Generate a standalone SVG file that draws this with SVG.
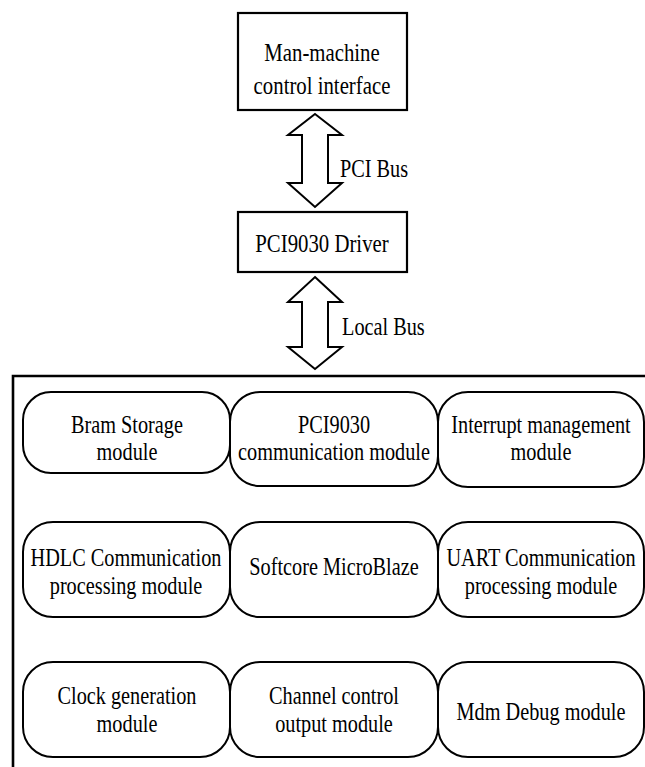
<svg xmlns="http://www.w3.org/2000/svg" width="645" height="767" viewBox="0 0 645 767">
<style>
.box{fill:#fff;stroke:#000;stroke-width:2.2}
.rr{fill:#fff;stroke:#000;stroke-width:2}
.arr{fill:#fff;stroke:#000;stroke-width:2;stroke-linejoin:miter}
.t{font-family:'Liberation Serif',serif;font-size:26px;fill:#000;text-anchor:middle}
.l{font-family:'Liberation Serif',serif;font-size:26px;fill:#000;text-anchor:start}
</style>
<rect width="645" height="767" fill="#fff"/>
<g id="connectors">
<polygon class="arr" points="315,114 342,135 328,135 328,183 342,183 315,207 288,183 302,183 302,135 288,135"/>
<text class="l" font-family="Liberation Serif" transform="translate(340,177) scale(0.78,1)">PCI Bus</text>
<polygon class="arr" points="315,277 342,302 328,302 328,347 342,347 315,369 288,347 302,347 302,302 288,302"/>
<text class="l" font-family="Liberation Serif" transform="translate(342,335) scale(0.78,1)">Local Bus</text>
</g>
<g id="hmi">
<rect class="box" x="238" y="13" width="169" height="97"/>
<text class="t" font-family="Liberation Serif" transform="translate(322,61) scale(0.8,1)">Man-machine</text>
<text class="t" font-family="Liberation Serif" transform="translate(322,94) scale(0.8,1)">control interface</text>
</g>
<g id="driver">
<rect class="box" x="238" y="212" width="169" height="60"/>
<text class="t" font-family="Liberation Serif" transform="translate(322,252) scale(0.8,1)">PCI9030 Driver</text>
</g>
<g id="fpga">
<path d="M13,767 V376 H645" fill="none" stroke="#000" stroke-width="2.6"/>
</g>
<g id="bram">
<rect class="rr" x="23" y="392" width="207" height="81" rx="28" ry="28"/>
<text class="t" font-family="Liberation Serif" transform="translate(127,433) scale(0.78,1)">Bram Storage</text>
<text class="t" font-family="Liberation Serif" transform="translate(127,460) scale(0.78,1)">module</text>
</g>
<g id="pci9030comm">
<rect class="rr" x="230" y="392" width="208" height="94" rx="30" ry="30"/>
<text class="t" font-family="Liberation Serif" transform="translate(334,433) scale(0.78,1)">PCI9030</text>
<text class="t" font-family="Liberation Serif" transform="translate(334,460) scale(0.78,1)">communication module</text>
</g>
<g id="interrupt">
<rect class="rr" x="438" y="392" width="206" height="95" rx="30" ry="30"/>
<text class="t" font-family="Liberation Serif" transform="translate(541,433) scale(0.78,1)">Interrupt management</text>
<text class="t" font-family="Liberation Serif" transform="translate(541,460) scale(0.78,1)">module</text>
</g>
<g id="hdlc">
<rect class="rr" x="23" y="522" width="207" height="95" rx="30" ry="30"/>
<text class="t" font-family="Liberation Serif" transform="translate(126,566) scale(0.78,1)">HDLC Communication</text>
<text class="t" font-family="Liberation Serif" transform="translate(126,594) scale(0.78,1)">processing module</text>
</g>
<g id="microblaze">
<rect class="rr" x="230" y="522" width="208" height="95" rx="30" ry="30"/>
<text class="t" font-family="Liberation Serif" transform="translate(334,575) scale(0.78,1)">Softcore MicroBlaze</text>
</g>
<g id="uart">
<rect class="rr" x="438" y="522" width="206" height="95" rx="30" ry="30"/>
<text class="t" font-family="Liberation Serif" transform="translate(541,566) scale(0.78,1)">UART Communication</text>
<text class="t" font-family="Liberation Serif" transform="translate(541,594) scale(0.78,1)">processing module</text>
</g>
<g id="clock">
<rect class="rr" x="23" y="662" width="207" height="95" rx="30" ry="30"/>
<text class="t" font-family="Liberation Serif" transform="translate(127,704) scale(0.78,1)">Clock generation</text>
<text class="t" font-family="Liberation Serif" transform="translate(127,732) scale(0.78,1)">module</text>
</g>
<g id="channel">
<rect class="rr" x="230" y="662" width="208" height="95" rx="30" ry="30"/>
<text class="t" font-family="Liberation Serif" transform="translate(334,704) scale(0.78,1)">Channel control</text>
<text class="t" font-family="Liberation Serif" transform="translate(334,732) scale(0.78,1)">output module</text>
</g>
<g id="mdm">
<rect class="rr" x="438" y="662" width="206" height="95" rx="30" ry="30"/>
<text class="t" font-family="Liberation Serif" transform="translate(541,720) scale(0.78,1)">Mdm Debug module</text>
</g>
</svg>
